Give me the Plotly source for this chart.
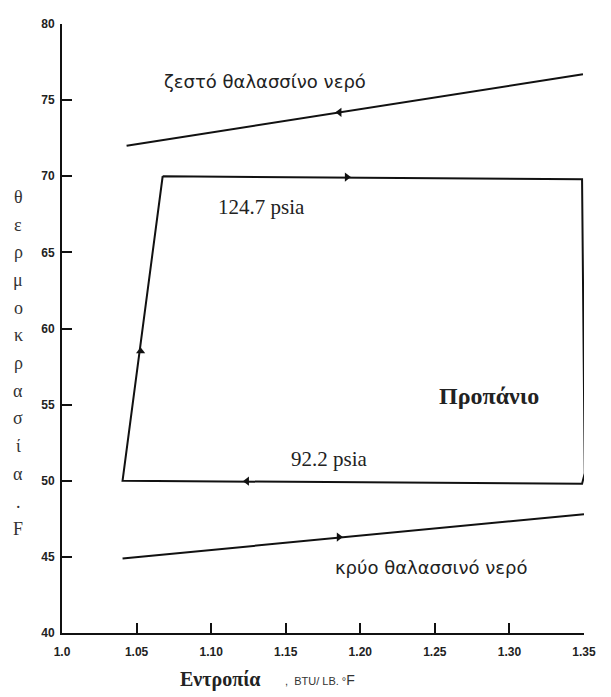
import plotly.graph_objects as go

# ---- data (entropy BTU/lb°F, temperature °F) ----
hot_s = [1.0433, 1.3493]
hot_T = [72.0, 76.7]
hot_arrow_s = [1.186]
hot_arrow_T = [74.2]

cold_s = [1.0406, 1.35]
cold_T = [44.9, 47.8]
cold_arrow_s = [1.1856]
cold_arrow_T = [46.3]

cycle_s = [1.0675, 1.3487, 1.3505, 1.3487, 1.0406, 1.0675]
cycle_T = [70.0, 69.8, 50.5, 49.8, 50.0, 70.0]

arrow_s = [1.191, 1.3505, 1.124, 1.0527]
arrow_T = [69.95, 55.1, 49.97, 58.5]
arrow_sym = ["triangle-right", "triangle-down", "triangle-left", "triangle-up"]

x_ticks = [1.0, 1.05, 1.10, 1.15, 1.20, 1.25, 1.30, 1.35]
x_labels = ["1.0", "1.05", "1.10", "1.15", "1.20", "1.25", "1.30", "1.35"]
y_ticks = [40, 45, 50, 55, 60, 65, 70, 75, 80]
y_labels = ["40", "45", "50", "55", "60", "65", "70", "75", "80"]

y_title_letters = ["θ", "ε", "ρ", "μ", "ο", "κ", "ρ", "α", "σ", "ί", "α", ".", "F"]

fig = go.Figure()
line = dict(color="#111", width=2)
fig.add_trace(go.Scatter(x=hot_s, y=hot_T, mode="lines", line=line, hoverinfo="skip"))
fig.add_trace(go.Scatter(x=cold_s, y=cold_T, mode="lines", line=line, hoverinfo="skip"))
fig.add_trace(go.Scatter(x=cycle_s, y=cycle_T, mode="lines", line=line, hoverinfo="skip"))
fig.add_trace(go.Scatter(x=hot_arrow_s, y=hot_arrow_T, mode="markers",
                         marker=dict(symbol="triangle-left", size=8, color="#111"), cliponaxis=False))
fig.add_trace(go.Scatter(x=cold_arrow_s, y=cold_arrow_T, mode="markers",
                         marker=dict(symbol="triangle-right", size=8, color="#111"), cliponaxis=False))
fig.add_trace(go.Scatter(x=arrow_s, y=arrow_T, mode="markers",
                         marker=dict(symbol=arrow_sym, size=8, color="#111"), cliponaxis=False))

sans = "DejaVu Sans"
serif = "Liberation Serif"
anns = [
    dict(x=1.1359, y=76.23, text="ζεστό θαλασσίνο νερό", font=dict(family=sans, size=18, color="#222")),
    dict(x=1.1339, y=67.99, text="124.7 psia", font=dict(family=serif, size=21, color="#222")),
    dict(x=1.2862, y=55.58, text="<b>Προπάνιο</b>", font=dict(family=serif, size=24, color="#222")),
    dict(x=1.1795, y=51.43, text="92.2 psia", font=dict(family=serif, size=21, color="#222")),
    dict(x=1.248, y=44.29, text="κρύο θαλασσινό νερό", font=dict(family=sans, size=18, color="#222")),
]
for a in anns:
    fig.add_annotation(xref="x", yref="y", showarrow=False, xanchor="center", yanchor="middle", **a)

# vertical stacked y-axis title (positions in page pixels, mapped to paper coords)
for i, ch in enumerate(y_title_letters):
    py = 192 + 28 * i
    fig.add_annotation(xref="paper", yref="paper", x=(18 - 62) / 522, y=(633 - py) / 616,
                       text=ch, showarrow=False, xanchor="center", yanchor="middle",
                       font=dict(family=serif, size=18, color="#333"))

# x-axis title
fig.add_annotation(xref="paper", yref="paper", x=(220 - 62) / 522, y=(633 - 680) / 616,
                   text="<b>Εντροπία</b>", showarrow=False, xanchor="center", yanchor="middle",
                   font=dict(family=serif, size=20, color="#222"))
fig.add_annotation(xref="paper", yref="paper", x=(283 - 62) / 522, y=(633 - 681) / 616,
                   text=",  BTU/ LB. °<span style='font-size:14px'>F</span>", showarrow=False,
                   xanchor="left", yanchor="middle",
                   font=dict(family="Liberation Sans", size=11, color="#333"))

axis_common = dict(showline=True, linecolor="#111", linewidth=2, ticks="inside", ticklen=10,
                   tickwidth=1.5, tickcolor="#111", showgrid=False, zeroline=False,
                   tickfont=dict(family="Liberation Sans", size=12, color="#222", weight="bold"))
# page body has an 8px margin: figure is 8px smaller and margins shifted accordingly
fig.update_layout(
    width=603, height=689,
    margin=dict(l=54, r=27, t=9, b=64),
    paper_bgcolor="white", plot_bgcolor="white",
    showlegend=False,
    xaxis=dict(range=[1.0, 1.35], tickvals=x_ticks, ticktext=x_labels, ticklabelstandoff=7, **axis_common),
    yaxis=dict(range=[40, 80], tickvals=y_ticks, ticktext=y_labels, ticklabelstandoff=3, **axis_common),
)

fig.write_html("out.html")
